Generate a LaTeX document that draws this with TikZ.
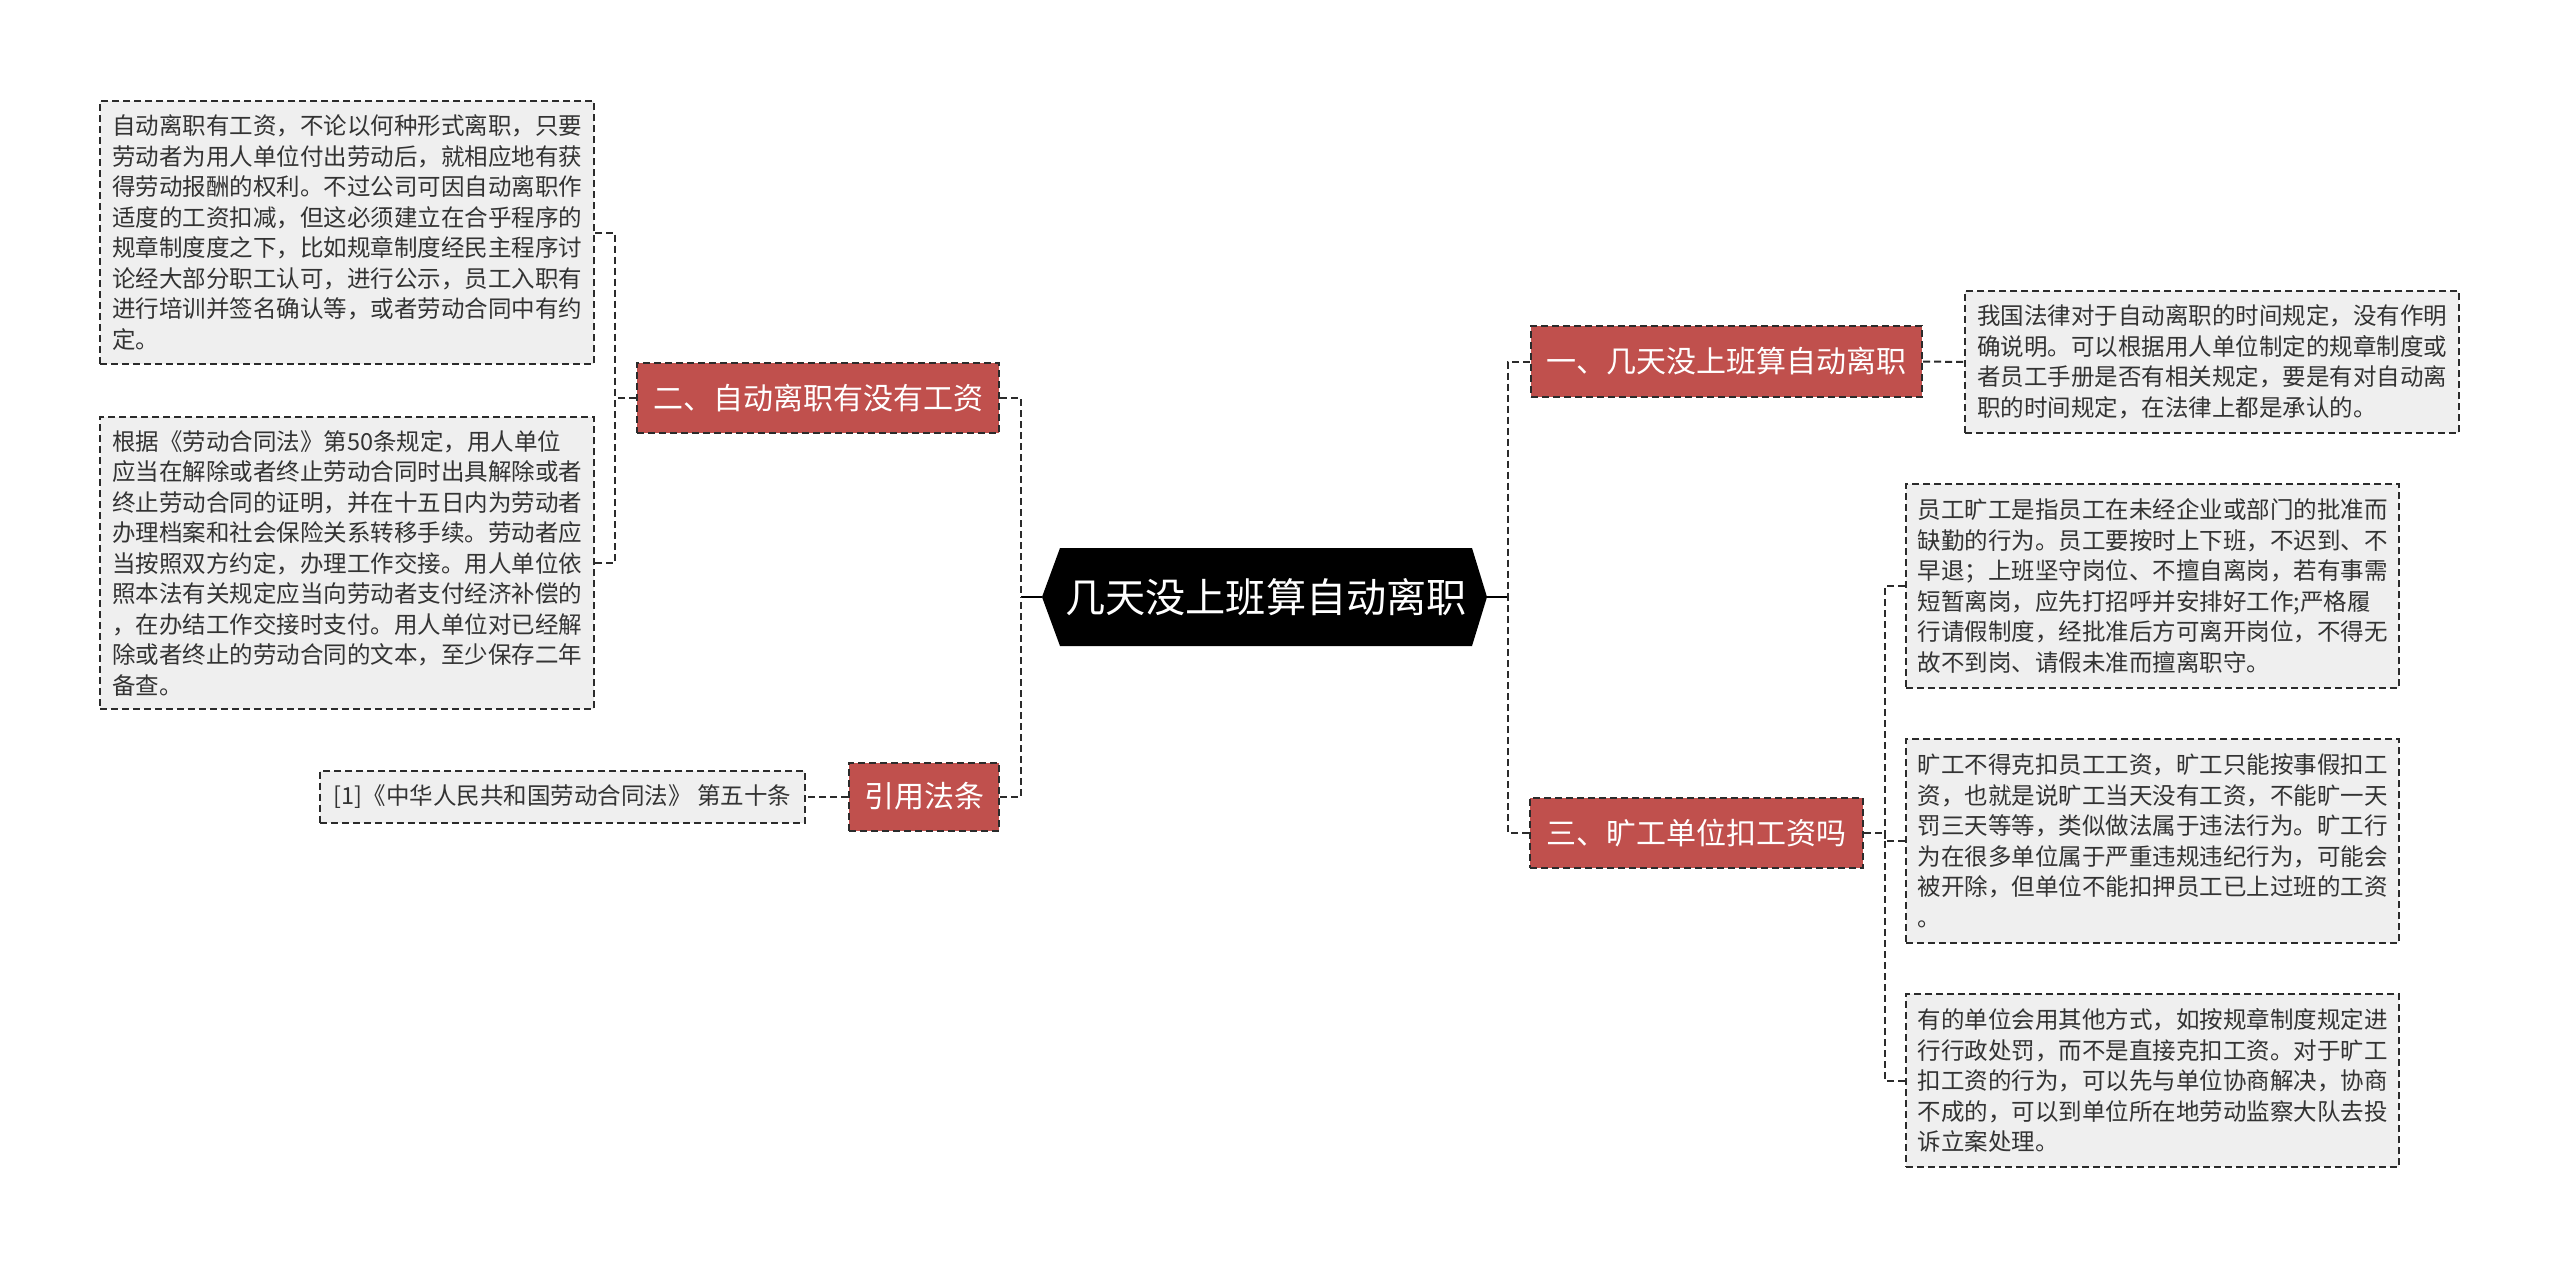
\documentclass[tikz,border=0pt]{standalone}
\usepackage{fontspec}
\setmainfont{Noto Sans CJK SC}
\usetikzlibrary{backgrounds}
\definecolor{leafbg}{HTML}{EFEFEF}
\definecolor{leaftext}{HTML}{333333}
\definecolor{branchred}{HTML}{C0504D}
\definecolor{lineclr}{HTML}{2B2B2B}
\tikzset{
  leafbox/.style={draw=lineclr, fill=leafbg, text=leaftext, line width=2pt,
    dash pattern=on 7pt off 4pt, inner sep=0pt, align=left,
    font=\fontsize{23.5pt}{30.5pt}\selectfont},
  branchbox/.style={draw=lineclr, fill=branchred, text=white, line width=2pt,
    dash pattern=on 7pt off 4pt, inner sep=0pt, minimum height=70pt,
    font=\fontsize{30pt}{36pt}\selectfont},
  conn/.style={draw=lineclr, line width=2pt, dash pattern=on 7pt off 4pt},
  rootline/.style={draw=black, line width=2.5pt},
  roottext/.style={text=white, inner sep=0pt, minimum width=412pt, minimum height=98pt,
    font=\fontsize{44pt}{50pt}\selectfont}
}
\begin{document}
\begin{tikzpicture}[x=1pt,y=-1pt]
\useasboundingbox (0,0) rectangle (2560,1269);
% root
\node[roottext] (root) at (1266,597) {\resizebox{402pt}{!}{几天没上班算自动离职}};
\coordinate (rootL) at (1042,597);
\coordinate (rootR) at (1487,597);
\begin{scope}[on background layer]
  \fill[white] (0,0) rectangle (2560,1269);
  \fill[black] (rootL) -- (1060,548) -- (1472,548) -- (rootR)
    -- (1472,646) -- (1060,646) -- cycle;
\end{scope}

% left branches
\node[branchbox, minimum width=362pt] (D) at (818,398) {二、自动离职有没有工资};
\node[branchbox, minimum width=150pt, minimum height=68pt] (E) at (924,796.5) {引用法条};

\node[leafbox, minimum width=494pt, minimum height=263pt] (A) at (347,232.5) {%
自动离职有工资，不论以何种形式离职，只要\\
劳动者为用人单位付出劳动后，就相应地有获\\
得劳动报酬的权利。不过公司可因自动离职作\\
适度的工资扣减，但这必须建立在合乎程序的\\
规章制度度之下，比如规章制度经民主程序讨\\
论经大部分职工认可，进行公示，员工入职有\\
进行培训并签名确认等，或者劳动合同中有约\\
定。};

\node[leafbox, minimum width=494pt, minimum height=292pt] (B) at (347,563) {%
根据《劳动合同法》第50条规定，用人单位\\
应当在解除或者终止劳动合同时出具解除或者\\
终止劳动合同的证明，并在十五日内为劳动者\\
办理档案和社会保险关系转移手续。劳动者应\\
当按照双方约定，办理工作交接。用人单位依\\
照本法有关规定应当向劳动者支付经济补偿的\\
，在办结工作交接时支付。用人单位对已经解\\
除或者终止的劳动合同的文本，至少保存二年\\
备查。};

\node[leafbox, minimum width=485pt, minimum height=52pt] (C) at (562.5,796.5) {[1]《中华人民共和国劳动合同法》 第五十条};

% right branches
\node[branchbox, minimum width=391pt, minimum height=71pt] (F) at (1726.5,361.5) {一、几天没上班算自动离职};
\node[branchbox, minimum width=333pt] (I) at (1696.5,833) {三、旷工单位扣工资吗};

\node[leafbox, minimum width=494pt, minimum height=142pt] (G) at (2212,362) {%
我国法律对于自动离职的时间规定，没有作明\\
确说明。可以根据用人单位制定的规章制度或\\
者员工手册是否有相关规定，要是有对自动离\\
职的时间规定，在法律上都是承认的。};

\node[leafbox, minimum width=493pt, minimum height=204pt] (H) at (2152.5,586) {%
员工旷工是指员工在未经企业或部门的批准而\\
缺勤的行为。员工要按时上下班，不迟到、不\\
早退；上班坚守岗位、不擅自离岗，若有事需\\
短暂离岗，应先打招呼并安排好工作;严格履\\
行请假制度，经批准后方可离开岗位，不得无\\
故不到岗、请假未准而擅离职守。};

\node[leafbox, minimum width=493pt, minimum height=204pt] (J) at (2152.5,841) {%
旷工不得克扣员工工资，旷工只能按事假扣工\\
资，也就是说旷工当天没有工资，不能旷一天\\
罚三天等等，类似做法属于违法行为。旷工行\\
为在很多单位属于严重违规违纪行为，可能会\\
被开除，但单位不能扣押员工已上过班的工资\\
。};

\node[leafbox, minimum width=493pt, minimum height=173pt] (K) at (2152.5,1080.5) {%
有的单位会用其他方式，如按规章制度规定进\\
行行政处罚，而不是直接克扣工资。对于旷工\\
扣工资的行为，可以先与单位协商解决，协商\\
不成的，可以到单位所在地劳动监察大队去投\\
诉立案处理。};

% connectors root
\draw[rootline] (rootR) -- ++(21,0) coordinate (tR);
\draw[rootline] (rootL) -- ++(-21,0) coordinate (tL);
\draw[conn] (F.west) -| (tR);
\draw[conn] (I.west) -| (tR);
\draw[conn] (D.east) -| (tL);
\draw[conn] (E.east) -| (tL);
% left children
\draw[conn] (D.west) -- ++(-21,0) coordinate (dL);
\draw[conn] (A.east) -| (dL);
\draw[conn] (B.east) -| (dL);
\draw[conn] (E.west) -- (C.east);
% right children
\draw[conn] (F.east) -- (G.west);
\draw[conn] (I.east) -- ++(21,0) coordinate (iR);
\draw[conn] (H.west) -| (iR);
\draw[conn] (J.west) -| (iR);
\draw[conn] (K.west) -| (iR);
\end{tikzpicture}
\end{document}
